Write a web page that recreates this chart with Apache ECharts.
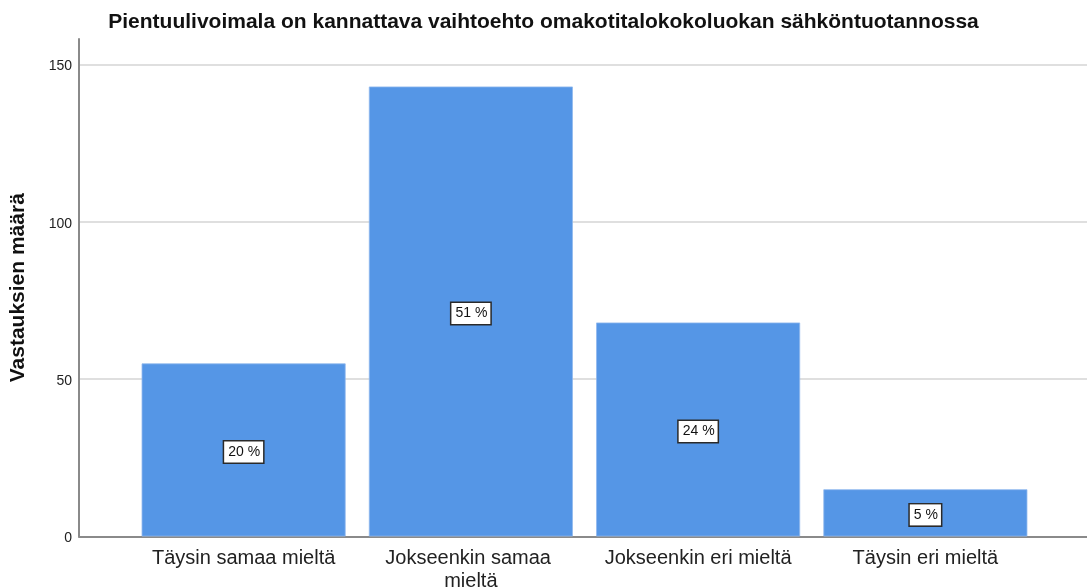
<!DOCTYPE html>
<html>
<head>
<meta charset="utf-8">
<script src="https://cdn.jsdelivr.net/npm/echarts@6/dist/echarts.min.js"></script>
<style>
html,body{margin:0;padding:0;background:#fff;}
#c{width:1087px;height:588px;}
</style>
</head>
<body>
<div id="c"></div>
<script>
const titleText = 'Pientuulivoimala on kannattava vaihtoehto omakotitalokokoluokan sähköntuotannossa';
const yAxisName = 'Vastauksien määrä';
const categories = ['Täysin samaa mieltä', 'Jokseenkin samaa mieltä', 'Jokseenkin eri mieltä', 'Täysin eri mieltä'];
const counts = [55, 143, 68, 15];
const percentLabels = ['20 %', '51 %', '24 %', '5 %'];
const yTicks = [0, 50, 100, 150];

const FONT = '"Liberation Sans", Arial, sans-serif';
const chart = echarts.init(document.getElementById('c'), null, {renderer: 'canvas'});

const option = {
  backgroundColor: '#ffffff',
  animation: false,
  title: {
    text: titleText,
    left: 'center',
    top: 7,
    textStyle: {fontFamily: FONT, fontSize: 21, fontWeight: 'bold', color: '#111'}
  },
  grid: [
    {left: 79, right: 0, top: 64.5, bottom: 51.5, containLabel: false, outerBoundsMode: 'none'},
    {left: 79, right: 0, top: 39, bottom: 51.5, containLabel: false, outerBoundsMode: 'none'},
    {left: 130, right: 48, top: 64.5, bottom: 51.5, containLabel: false, outerBoundsMode: 'none'}
  ],
  xAxis: [
    {gridIndex: 0, type: 'value', min: 0, max: 1, show: true,
     axisLine: {show: true, onZero: false, lineStyle: {color: '#8a8a8a', width: 2}},
     axisTick: {show: false}, axisLabel: {show: false}, splitLine: {show: false}},
    {gridIndex: 1, type: 'value', min: 0, max: 1, show: false},
    {gridIndex: 2, type: 'category', data: categories,
     axisLine: {show: false}, axisTick: {show: false},
     axisLabel: {fontFamily: FONT, fontSize: 20, color: '#222', margin: 10, lineHeight: 23,
                 width: 215, overflow: 'break', interval: 0}}
  ],
  yAxis: [
    {gridIndex: 0, type: 'value', min: yTicks[0], max: yTicks[yTicks.length - 1], interval: 50,
     axisLine: {show: false}, axisTick: {show: false},
     axisLabel: {fontFamily: FONT, fontSize: 14, color: '#222', margin: 7,
                 customValues: yTicks, verticalAlign: 'top', padding: [-5, 0, 0, 0]},
     splitLine: {show: true, lineStyle: {color: '#d4d4d4', width: 1.5}}},
    {gridIndex: 1, type: 'value', min: 0, max: 1,
     axisLine: {show: true, lineStyle: {color: '#8a8a8a', width: 2}},
     axisTick: {show: false}, axisLabel: {show: false}, splitLine: {show: false},
     name: yAxisName, nameLocation: 'middle', nameGap: 50,
     nameTextStyle: {fontFamily: FONT, fontSize: 21, fontWeight: 'bold', color: '#111'}},
    {gridIndex: 2, type: 'value', min: 0, max: 150, show: false}
  ],
  series: [{
    type: 'bar',
    xAxisIndex: 2,
    yAxisIndex: 2,
    data: counts,
    barWidth: 204,
    itemStyle: {color: '#5596e6', borderColor: '#8fb8ee', borderWidth: 0.8},
    label: {
      show: true,
      position: 'inside',
      offset: [0, 2],
      formatter: p => percentLabels[p.dataIndex],
      fontFamily: FONT, fontSize: 14, color: '#111',
      backgroundColor: '#ffffff',
      borderColor: '#2a2a2a', borderWidth: 1.5,
      padding: [4, 3, 3, 4]
    }
  }]
};
chart.setOption(option);
</script>
</body>
</html>
